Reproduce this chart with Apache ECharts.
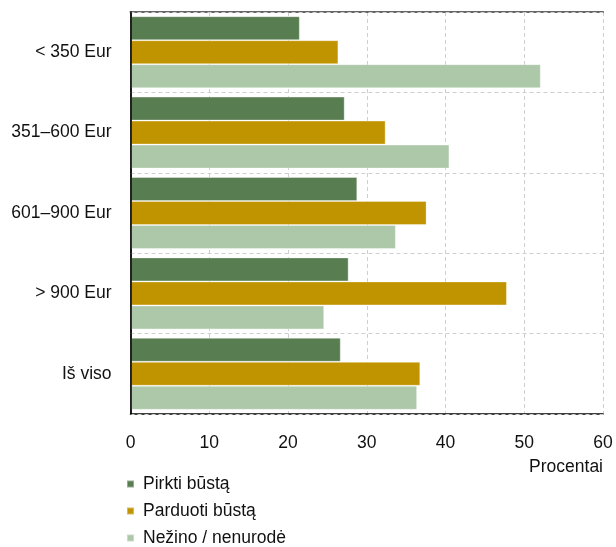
<!DOCTYPE html>
<html><head><meta charset="utf-8">
<script src="https://cdn.jsdelivr.net/npm/echarts@6/dist/echarts.min.js"></script>
<style>html,body{margin:0;padding:0;background:#fff}#c{width:616px;height:547px}</style>
</head><body><div id="c"></div>
<script>
var categories = ['< 350 Eur', '351–600 Eur', '601–900 Eur', '> 900 Eur', 'Iš viso'];
var seriesNames = ['Pirkti būstą', 'Parduoti būstą', 'Nežino / nenurodė'];
var pirkti = [21.5, 27.2, 28.8, 27.7, 26.7];
var parduoti = [26.4, 32.4, 37.6, 47.8, 36.8];
var nezino = [52.1, 40.5, 33.7, 24.6, 36.4];
var xTicks = [0, 10, 20, 30, 40, 50, 60];
var colors = ['#587D51', '#C09400', '#ADC8A9'];
var FONT = "'Liberation Sans', Arial, sans-serif";
var FS = 17.5;

var chart = echarts.init(document.getElementById('c'), null, {renderer: 'canvas'});
var values = [pirkti, parduoti, nezino];
chart.setOption({
  animation: false,
  color: colors,
  grid: {left: 130.5, right: 13, top: 12, bottom: 133, containLabel: false, outerBoundsMode: 'none'},
  legend: {
    orient: 'vertical', left: 126, top: 475, height: 90, padding: 0,
    itemWidth: 7, itemHeight: 7, itemGap: 9,
    icon: 'rect',
    data: seriesNames,
    textStyle: {fontFamily: FONT, fontSize: FS, color: '#111', padding: [0,0,0,4]}
  },
  xAxis: [{
    type: 'value', min: xTicks[0], max: xTicks[xTicks.length-1], interval: 10,
    axisLine: {show: true, lineStyle: {color: '#000', width: 1.5}},
    axisTick: {show: false},
    axisLabel: {fontFamily: FONT, fontSize: FS, color: '#111', margin: 20},
    splitLine: {show: true, lineStyle: {color: '#cfcfcf', type: [4, 3], width: 1}},
    name: 'Procentai', nameLocation: 'end', nameGap: 0,
    nameTextStyle: {fontFamily: FONT, fontSize: FS, color: '#111', align: 'right', verticalAlign: 'top', padding: [44, 0, 0, 0]}
  }, {
    type: 'value', position: 'top', min: 0, max: 60, interval: 10,
    axisLine: {show: true, lineStyle: {color: '#666', width: 2, type: [2, 1]}},
    axisTick: {show: false}, axisLabel: {show: false}, splitLine: {show: false}
  }],
  yAxis: [{
    type: 'category', data: categories, inverse: true, z: 5,
    axisLine: {show: true, lineStyle: {color: '#000', width: 1.5}},
    axisTick: {show: false},
    axisLabel: {fontFamily: FONT, fontSize: FS, color: '#111', margin: 19},
    splitLine: {show: true, lineStyle: {color: '#cfcfcf', type: [4, 3], width: 1}}
  }, {
    type: 'category', data: categories, inverse: true, position: 'right',
    axisLine: {show: true, lineStyle: {color: '#666', width: 2}},
    axisTick: {show: false}, axisLabel: {show: false}, splitLine: {show: false}
  }],
  series: seriesNames.map(function (n, i) {
    return {
      name: n, type: 'bar', xAxisIndex: 0, yAxisIndex: 0,
      data: values[i], barGap: '0%', barCategoryGap: '10.4%',
      itemStyle: {color: colors[i], borderColor: 'rgba(255,255,255,0.35)', borderWidth: 1}
    };
  })
});
</script></body></html>
